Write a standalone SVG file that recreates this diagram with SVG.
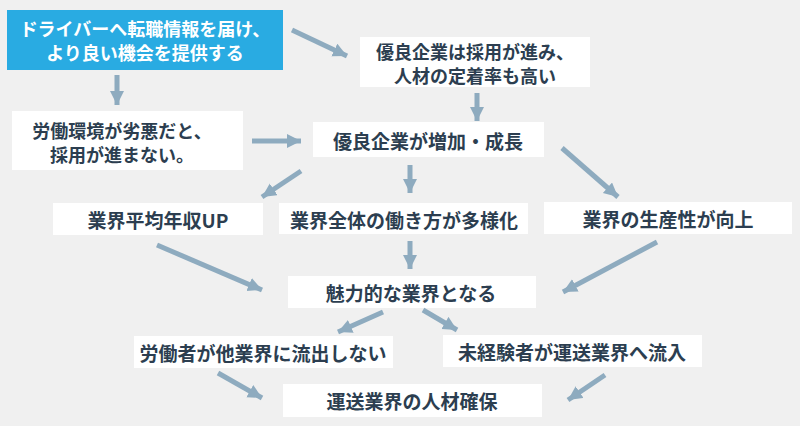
<svg xmlns="http://www.w3.org/2000/svg" width="800" height="426" viewBox="0 0 800 426">
<defs>
<style>
.box{fill:#ffffff}
.blue{fill:#29abe2}
text{font-family:"Noto Sans CJK JP","Noto Sans",sans-serif;font-weight:bold;font-size:19px;fill:#2c3e50;text-anchor:middle;dominant-baseline:central}
.t2{font-size:18px}
.w{fill:#ffffff}
.c line{stroke:#8eabbf;stroke-width:5;marker-end:url(#ah)}
</style>
<marker id="ah" markerUnits="userSpaceOnUse" markerWidth="16" markerHeight="16" refX="14" refY="7" orient="auto">
<path d="M0,0 L14,7 L0,14 Z" fill="#8eabbf"/>
</marker>
</defs>
<rect width="800" height="426" fill="#f0f0f0"/>
<g id="n1"><rect class="blue" x="7" y="10" width="276" height="60"/><text class="w t2" x="145" y="28">ドライバーへ転職情報を届け、</text><text class="w t2" x="145" y="52">より良い機会を提供する</text></g>
<g id="n2"><rect class="box" x="360" y="37" width="230" height="50"/><text class="t2" x="475" y="51">優良企業は採用が進み、</text><text class="t2" x="475" y="75">人材の定着率も高い</text></g>
<g id="n3"><rect class="box" x="12" y="111" width="231" height="59"/><text class="t2" x="122" y="130">労働環境が劣悪だと、</text><text class="t2" x="122" y="154">採用が進まない。</text></g>
<g id="n4"><rect class="box" x="313" y="122" width="231" height="35"/><text x="428" y="140">優良企業が増加・成長</text></g>
<g id="n5"><rect class="box" x="53" y="203" width="210" height="32"/><text x="158" y="219">業界平均年収UP</text></g>
<g id="n6"><rect class="box" x="279" y="203" width="249" height="31"/><text x="404" y="219">業界全体の働き方が多様化</text></g>
<g id="n7"><rect class="box" x="544" y="202" width="248" height="32"/><text x="668" y="218">業界の生産性が向上</text></g>
<g id="n8"><rect class="box" x="288" y="276" width="248" height="32"/><text x="411" y="292">魅力的な業界となる</text></g>
<g id="n9"><rect class="box" x="134" y="336" width="259" height="32"/><text x="263" y="352">労働者が他業界に流出しない</text></g>
<g id="n10"><rect class="box" x="443" y="335" width="259" height="32"/><text x="572" y="351">未経験者が運送業界へ流入</text></g>
<g id="n11"><rect class="box" x="283" y="384" width="259" height="33"/><text x="412" y="400">運送業界の人材確保</text></g>
<g id="connectors" class="c">
<line x1="292" y1="30" x2="347" y2="56"/>
<line x1="117" y1="75" x2="117" y2="105"/>
<line x1="252" y1="141" x2="301" y2="141"/>
<line x1="477" y1="93" x2="477" y2="121"/>
<line x1="301" y1="171" x2="262" y2="197"/>
<line x1="410" y1="165" x2="410" y2="193"/>
<line x1="562" y1="148" x2="618" y2="197"/>
<line x1="157" y1="245" x2="262" y2="290"/>
<line x1="410" y1="241" x2="410" y2="269"/>
<line x1="657" y1="242" x2="563" y2="292"/>
<line x1="383" y1="312" x2="338" y2="332"/>
<line x1="423" y1="310" x2="457" y2="330"/>
<line x1="218" y1="373" x2="262" y2="398"/>
<line x1="605" y1="375" x2="568" y2="400"/>
</g>
</svg>
